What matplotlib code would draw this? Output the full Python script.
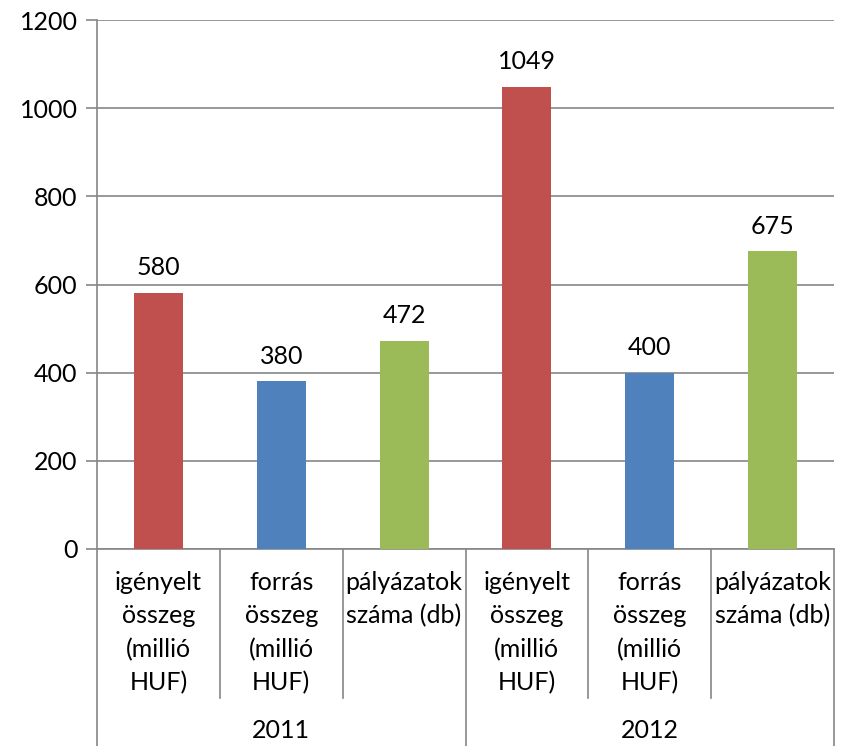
import matplotlib
matplotlib.use('Agg')
import matplotlib.pyplot as plt
import matplotlib.transforms as mtransforms

years = ['2011', '2012']
categories = ['igényelt\nösszeg\n(millió\nHUF)', 'forrás\nösszeg\n(millió\nHUF)', 'pályázatok\nszáma (db)']
values = [580, 380, 472, 1049, 400, 675]
colors = ['#C0504D', '#4F81BD', '#9BBB59']

plt.rcParams['font.family'] = ['Lato', 'DejaVu Sans']
grey = '#868686'
fs = 18

fig = plt.figure(figsize=(8.42, 7.46), dpi=100)
ax = fig.add_axes([97 / 842, 197 / 746, 737 / 842, 529 / 746])

labels = categories * len(years)
x = list(range(len(values)))
bars = ax.bar(x, values, width=0.4, color=colors * len(years), zorder=3)
ax.bar_label(bars, labels=[str(v) for v in values], padding=10, fontsize=fs)

ax.set_xlim(-0.5, len(values) - 0.5)
ax.set_ylim(0, 1200)
ax.set_yticks(range(0, 1201, 200))
ax.yaxis.grid(True, color=grey, linewidth=1.2, zorder=0)
ax.tick_params(axis='y', length=8, color=grey, width=1.2, labelsize=fs, pad=6)
ax.set_xticks([])
for s in ['top', 'right', 'left']:
    ax.spines[s].set_visible(False)
ax.spines['bottom'].set_color(grey)
ax.spines['bottom'].set_linewidth(1.2)

trans = mtransforms.blended_transform_factory(ax.transData, ax.transAxes)
# y-axis line extended down through category area
ax.plot([-0.5, -0.5], [1, -0.3724], transform=trans, color=grey, lw=1.2, clip_on=False)
for i in range(1, len(values) + 1):
    xs = i - 0.5
    if i % 3 == 0:
        ax.plot([xs, xs], [0, -0.3724], transform=trans, color=grey, lw=1.2, clip_on=False)
    else:
        ax.plot([xs, xs], [0, -0.2817], transform=trans, color=grey, lw=1.2, clip_on=False)

for xi, lab in zip(x, labels):
    ax.text(xi, -0.042, lab, transform=trans, ha='center', va='top',
            fontsize=fs, linespacing=1.53)
for j, yr in enumerate(years):
    ax.text(3 * j + 1, -0.344, yr, transform=trans, ha='center', va='center', fontsize=fs)

fig.savefig('out.png', dpi=100)
